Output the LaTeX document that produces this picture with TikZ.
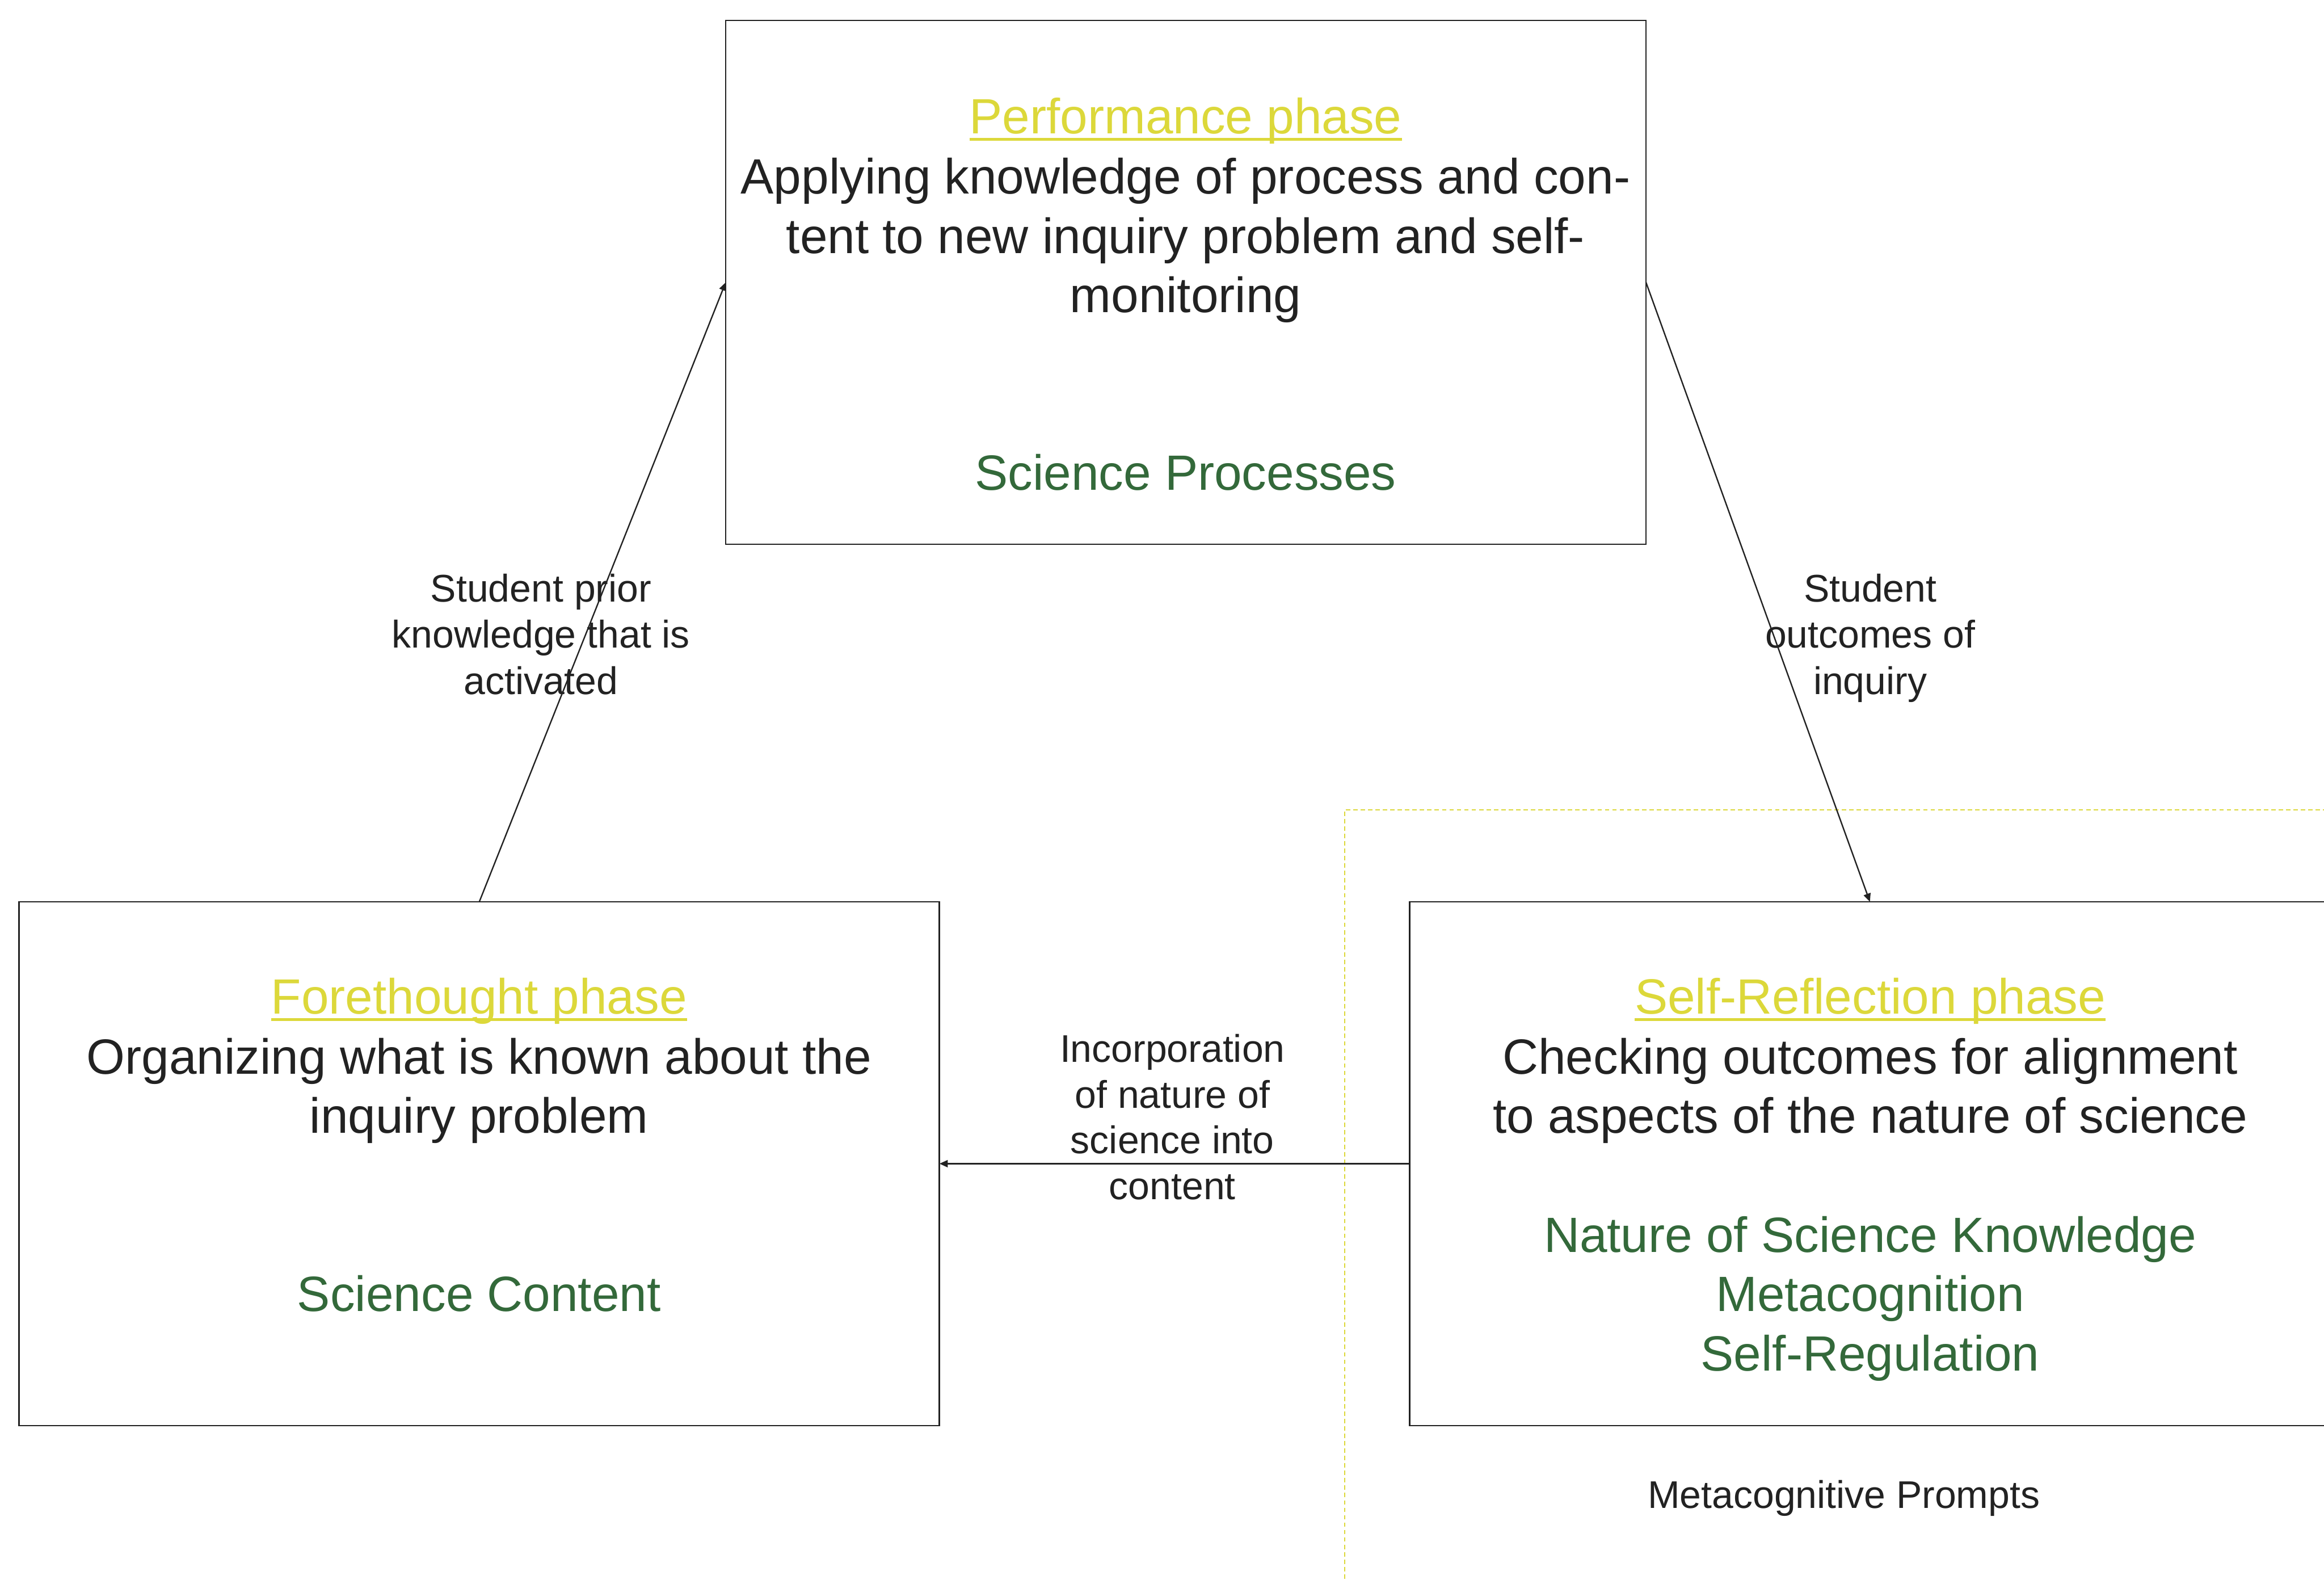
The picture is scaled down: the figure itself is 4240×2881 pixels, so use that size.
\documentclass[tikz,border=0pt]{standalone}
\usepackage{fontspec}
\setmainfont{Liberation Sans}
\usetikzlibrary{arrows.meta}
\definecolor{phaseyellow}{HTML}{DCD83A}
\definecolor{keygreen}{HTML}{33693A}
\definecolor{ink}{HTML}{222222}
% underlined phase heading, the rule crossing the descenders
\newcommand\phaseline[1]{\setbox0\hbox{#1}\rlap{\rule[-0.145em]{\wd0}{0.058em}}\box0}

\begin{document}
\begin{tikzpicture}[x=0.01cm,y=-0.01cm,
  phasebox/.style={draw=ink,line width=0.8pt,minimum width=16.78cm,minimum height=9.55cm,inner sep=0pt,outer sep=0pt},
  big/.style={font=\fontsize{25.7pt}{30.7pt}\selectfont,anchor=base,inner sep=0pt},
  title/.style={big,text=phaseyellow},
  body/.style={big,text=ink},
  key/.style={big,text=keygreen},
  lbl/.style={font=\fontsize{20pt}{23.9pt}\selectfont,anchor=base,inner sep=0pt,text=ink},
  conn/.style={draw=ink,line width=0.7pt,-{Triangle[length=0.15cm,width=0.13cm]}},
  zone/.style={draw=phaseyellow,line width=0.55pt,dash pattern=on 0.08cm off 0.055cm}
]
\clip (0,0) rectangle (4240,2881);
\fill[white] (0,0) rectangle (4240,2881);

% region of the metacognitive prompts
\draw[zone] (2453,2920) -- (2453,1477) -- (4280,1477);

% the three phases
\node[phasebox] (perf) at (2163.5,515) {};
\node[phasebox] (fore) at (874.5,2122.5) {};
\node[phasebox] (refl) at (3411.5,2122.5) {};

% cycle connectors
\draw[conn] (fore.north) -- (perf.west);
\draw[conn] (perf.east) -- (refl.north);
\draw[conn] (refl.west) -- (fore.east);

% performance phase
\node[title] (perfT) at (2163,244) {\phaseline{Performance phase}};
\node[body] (perfB1) at (2163,354) {Applying knowledge of process and con-};
\node[body] (perfB2) at (2163,462) {tent to new inquiry problem and self-};
\node[body] (perfB3) at (2163,570) {monitoring};
\node[key] (perfK) at (2163,894) {Science Processes};

% forethought phase
\node[title] (foreT) at (874,1849) {\phaseline{Forethought phase}};
\node[body] (foreB1) at (874,1959) {Organizing what is known about the};
\node[body] (foreB2) at (874,2067) {inquiry problem};
\node[key] (foreK) at (874,2392) {Science Content};

% self-reflection phase
\node[title] (reflT) at (3412,1849) {\phaseline{Self-Reflection phase}};
\node[body] (reflB1) at (3412,1959) {Checking outcomes for alignment};
\node[body] (reflB2) at (3412,2067) {to aspects of the nature of science};
\node[key] (reflK1) at (3412,2284) {Nature of Science Knowledge};
\node[key] (reflK2) at (3412,2392) {Metacognition};
\node[key] (reflK3) at (3412,2500) {Self-Regulation};

% connector labels
\node[lbl] (l1a) at (987,1098) {Student prior};
\node[lbl] (l1b) at (987,1182) {knowledge that is};
\node[lbl] (l1c) at (987,1266) {activated};

\node[lbl] (l2a) at (3412,1098) {Student};
\node[lbl] (l2b) at (3412,1182) {outcomes of};
\node[lbl] (l2c) at (3412,1266) {inquiry};

\node[lbl] (l3a) at (2139,1937) {Incorporation};
\node[lbl] (l3b) at (2139,2021) {of nature of};
\node[lbl] (l3c) at (2139,2104) {science into};
\node[lbl] (l3d) at (2139,2188) {content};

\node[lbl] (prompts) at (3364,2751) {Metacognitive Prompts};
\end{tikzpicture}
\end{document}
